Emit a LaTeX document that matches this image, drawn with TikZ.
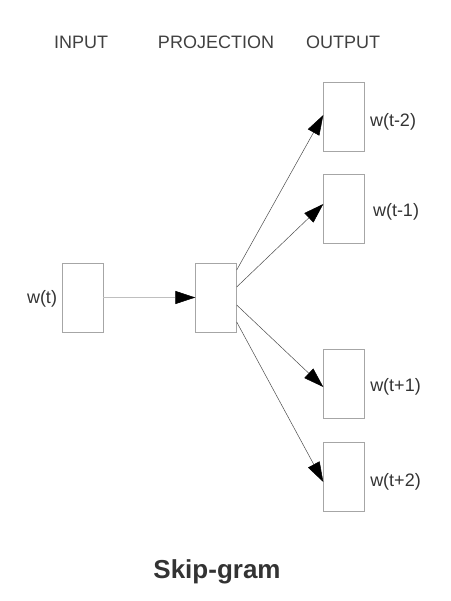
\documentclass[tikz,border=0pt]{standalone}
\usepackage{fontspec}
\setmainfont{Liberation Sans}
\usetikzlibrary{arrows.meta,positioning}
\tikzset{%
	unit/.style    = {draw=black!35, rectangle, minimum width=41pt, minimum height=69pt, inner sep=0pt},
	heading/.style = {text=black!75, font=\fontsize{18}{21}\selectfont},
	word/.style    = {text=black!80, font=\fontsize{18}{21}\selectfont, inner sep=0pt},
	arrow/.style   = {draw=black!70, line width=0.5pt, -{Triangle[length=20pt,width=13pt,black]}},
}

\begin{document}
\begin{tikzpicture}[x=1pt,y=-1pt]
	\useasboundingbox (0,0) rectangle (450,601);
	\node[heading] (hin) at (81,42) {INPUT};
	\node[heading] (hproj) at (216,42) {PROJECTION};
	\node[heading] (hout) at (343,42) {OUTPUT};
	\node[unit] (in) at (82.5,297.5) {};
	\node[unit] (proj) at (216,297.5) {};
	\node[unit] (outmtwo) at (344,117) {};
	\node[unit] (outmone) at (344,208.5) {};
	\node[unit] (outpone) at (344,384) {};
	\node[unit] (outptwo) at (344,476.5) {};
	\node[word] (win) at (42,299) {w(t)};
	\node[word] (wmtwo) at (393,122) {w(t-2)};
	\node[word] (wmone) at (396,212) {w(t-1)};
	\node[word] (wpone) at (395.5,387) {w(t+1)};
	\node[word] (wptwo) at (395.5,482) {w(t+2)};
	\draw[arrow,draw=black!25] (in.east) -- (proj.west);
	\draw[arrow] ([yshift=27.5pt]proj.east) -- ([yshift=2pt]outmtwo.west);
	\draw[arrow] ([yshift=10.5pt]proj.east) -- ([yshift=4.5pt]outmone.west);
	\draw[arrow] ([yshift=-7.5pt]proj.east) -- ([yshift=-3pt]outpone.west);
	\draw[arrow] ([yshift=-24.5pt]proj.east) -- ([yshift=-5.5pt]outptwo.west);
	\node[text=black!80, font=\fontsize{26}{30}\selectfont\bfseries] (title) at (217,572) {Skip-gram};
\end{tikzpicture}
\end{document}
